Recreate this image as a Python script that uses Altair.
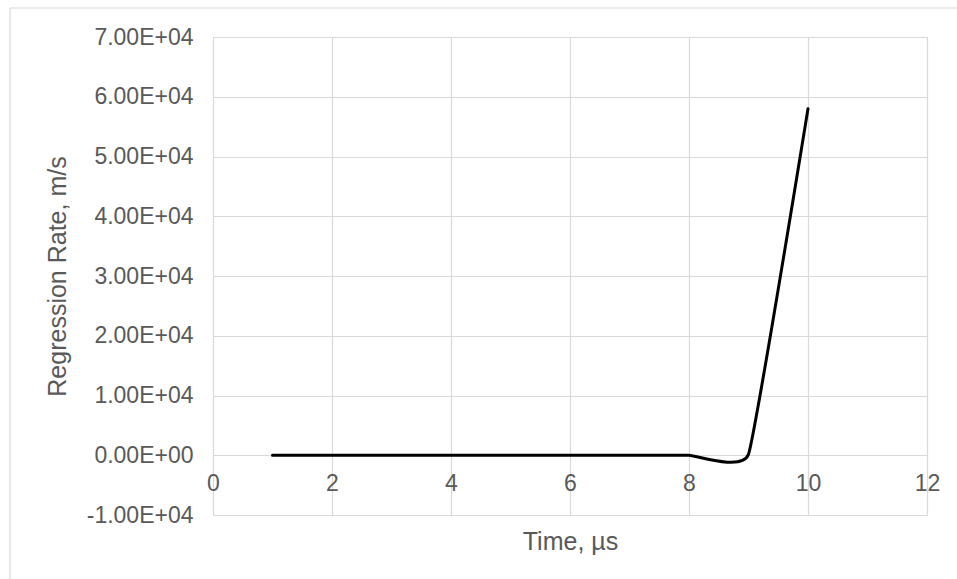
import altair as alt
import pandas as pd

# Data
time_us = [1, 2, 3, 4, 5, 6, 7, 8, 9, 10]
regression_rate = [0, 0, 0, 0, 0, 0, 0, 0, 150, 58000]

x_ticks = [0, 2, 4, 6, 8, 10, 12]
y_ticks = [-10000, 0, 10000, 20000, 30000, 40000, 50000, 60000, 70000]

df = pd.DataFrame({"t": time_us, "r": regression_rate})

FONT = "Liberation Sans"
TXT = "#595959"
GRID = "#d9d9d9"
W, H = 714, 478
PAD_L, PAD_T = 213, 37

y_label_expr = (
    "datum.value == 0 ? '0.00E+00' : "
    "(datum.value < 0 ? '-' : '') + format(abs(datum.value) / 10000, '.2f') + 'E+04'"
)

line = alt.Chart(df).mark_line(
    color="black", strokeWidth=3, interpolate="cardinal", tension=0.7, strokeCap="round"
).encode(
    x=alt.X(
        "t:Q",
        scale=alt.Scale(domain=[0, 12], nice=False, zero=False),
        axis=alt.Axis(
            values=x_ticks,
            title="Time, µs",
            grid=True,
            gridColor=GRID,
            gridWidth=1.2,
            domain=False,
            ticks=False,
            labelFlush=False,
            labelPadding=17,
            labelFontSize=23,
            labelColor=TXT,
            labelFont=FONT,
            titleFont=FONT,
            titleFontSize=25,
            titleFontWeight="normal",
            titleColor=TXT,
            titlePadding=34,
            offset=-H / 8,
        ),
    ),
    y=alt.Y(
        "r:Q",
        scale=alt.Scale(domain=[-10000, 70000], nice=False, zero=False),
        axis=alt.Axis(
            values=y_ticks,
            labelExpr=y_label_expr,
            title="Regression Rate, m/s",
            grid=True,
            gridColor=GRID,
            gridWidth=1.2,
            domain=False,
            ticks=False,
            labelPadding=20,
            labelFontSize=23,
            labelColor=TXT,
            labelFont=FONT,
            titleFont=FONT,
            titleFontSize=25,
            titleFontWeight="normal",
            titleColor=TXT,
            titlePadding=16,
        ),
    ),
)

border_data = alt.Data(values=[{"k": 1}])
top_border = alt.Chart(border_data).mark_rule(color=GRID, strokeWidth=1.2).encode(
    x=alt.value(10 - PAD_L), x2=alt.value(957 - PAD_L), y=alt.value(8 - PAD_T)
)
left_border = alt.Chart(border_data).mark_rule(color=GRID, strokeWidth=1.2).encode(
    x=alt.value(10 - PAD_L), y=alt.value(8 - PAD_T), y2=alt.value(579 - PAD_T)
)

chart = alt.layer(top_border, left_border, line).properties(
    width=W,
    height=H,
    autosize=alt.AutoSizeParams(type="none"),
    padding={"left": PAD_L, "top": PAD_T, "right": 957 - PAD_L - W, "bottom": 579 - PAD_T - H},
).configure_view(stroke=None).configure(background="white")

chart.save("out.html", embed_options={"renderer": "svg", "actions": False})
